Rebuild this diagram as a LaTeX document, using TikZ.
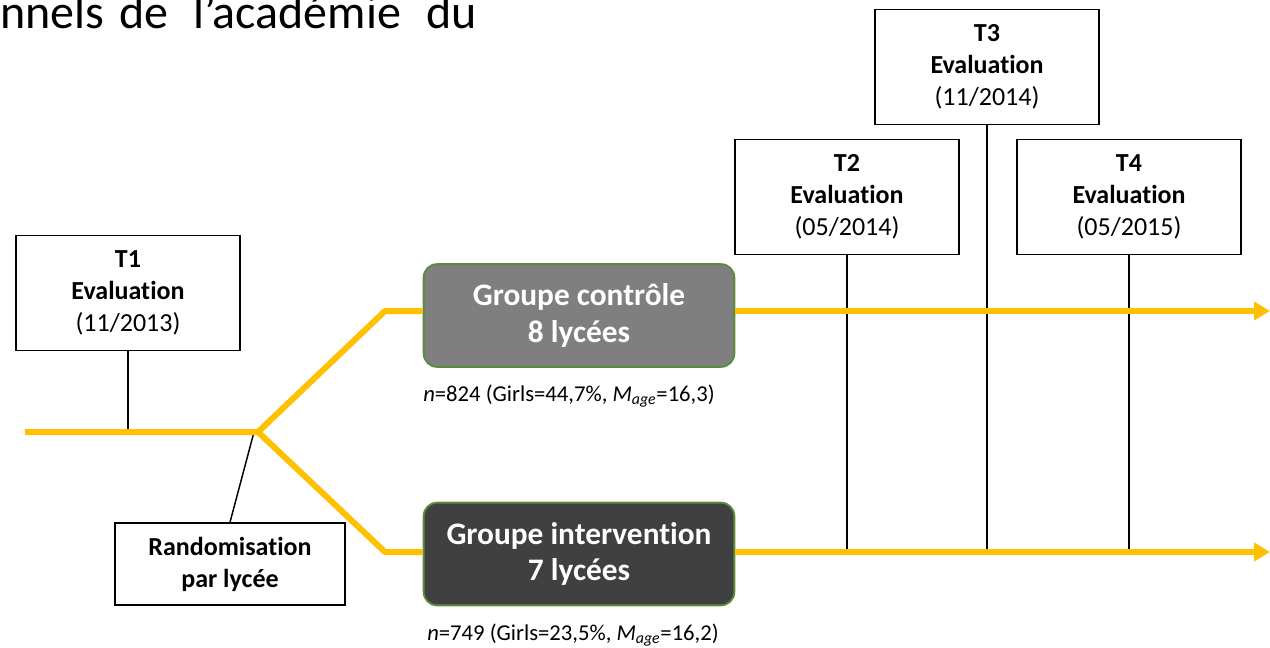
\documentclass[tikz,border=0pt]{standalone}
\usepackage{fontspec}
\setmainfont[Ligatures=NoCommon]{Carlito}
\usetikzlibrary{arrows.meta,calc}
\definecolor{ylw}{HTML}{FFC000}
\definecolor{gctrl}{HTML}{7F7F7F}
\definecolor{gint}{HTML}{404040}
\definecolor{gbord}{HTML}{5B8C3A}
\begin{document}
\begin{tikzpicture}[x=0.75pt,y=-0.75pt,
  evalbox/.style={draw=black, line width=1.1pt, fill=white, minimum width=168pt, minimum height=86pt, align=center, inner sep=0pt, font=\fontsize{19.5}{24}\selectfont},
  groupbox/.style={draw=gbord, line width=1.4pt, rounded corners=10pt, minimum width=233pt, minimum height=77pt, align=center, inner sep=0pt, text=white, font=\fontsize{23.5}{27.5}\selectfont\bfseries},
  annot/.style={inner sep=0pt, anchor=base, font=\fontsize{17}{20}\selectfont},
  topword/.style={inner sep=0pt, anchor=base west, font=\fontsize{36}{40}\selectfont},
  tick/.style={draw=black, line width=1.1pt},
  flow/.style={draw=ylw, line width=4.5pt},
  flowarrow/.style={flow, -{Triangle[length=12pt,width=13.5pt]}}
]
\useasboundingbox (0,0) rectangle (1270,647);
\clip (0,0) rectangle (1270,647);

% top partial text
\node[topword] (w1) at (0,28) {nnels};
\node[topword] (w2) at (119,28) {de};
\node[topword] (w3) at (193,28) {l’académie};
\node[topword] (w4) at (426,28) {du};

% coordinates of the flow
\coordinate (start) at (25,432);
\coordinate (split) at (258,432);
\coordinate (randtip) at (254,432);
\coordinate (upbend) at (385,311);
\coordinate (lowbend) at (385,552);
\coordinate (upend) at (1270,311);
\coordinate (lowend) at (1270,552);

% evaluation boxes
\node[evalbox] (t1) at (128,293) {\textbf{T1}\\\textbf{Evaluation}\\(11/2013)};
\node[evalbox] (t2) at (847,197) {\textbf{T2}\\\textbf{Evaluation}\\(05/2014)};
\node[evalbox] (t3) at (987,67) {\textbf{T3}\\\textbf{Evaluation}\\(11/2014)};
\node[evalbox] (t4) at (1129,197) {\textbf{T4}\\\textbf{Evaluation}\\(05/2015)};

\node[evalbox, minimum width=172.5pt, minimum height=61.5pt, font=\fontsize{19.5}{24}\selectfont\bfseries] (rand) at (230,564) {Randomisation\\par lycée};

% groups
\node[groupbox, fill=gctrl] (ctrl) at (579,315.5) {Groupe contrôle\\8 lycées};
\node[groupbox, fill=gint] (intv) at (579,554) {Groupe intervention\\7 lycées};

\node[annot] (nctrl) at (569,401) {\textit{n}=824 (Girls=44,7\%, \textit{M}\textsubscript{\textit{age}}=16,3)};
\node[annot] (nintv) at (573,640) {\textit{n}=749 (Girls=23,5\%, \textit{M}\textsubscript{\textit{age}}=16,2)};

% ticks
\draw[tick] (t1.south) -- (t1.south |- start);
\draw[tick] (rand.north) -- (randtip);
\draw[tick] (t2.south) -- (t2.south |- lowend);
\draw[tick] (t3.south) -- (t3.south |- lowend);
\draw[tick] (t4.south) -- (t4.south |- lowend);

% flow lines
\draw[flow, line join=round] (start) -- (split) -- (upbend) -- (upbend -| ctrl.west);
\draw[flow, line join=round] (split) -- (lowbend) -- (lowbend -| intv.west);
\draw[flowarrow] (upbend -| ctrl.east) -- (upend);
\draw[flowarrow] (lowbend -| intv.east) -- (lowend);
\end{tikzpicture}
\end{document}
